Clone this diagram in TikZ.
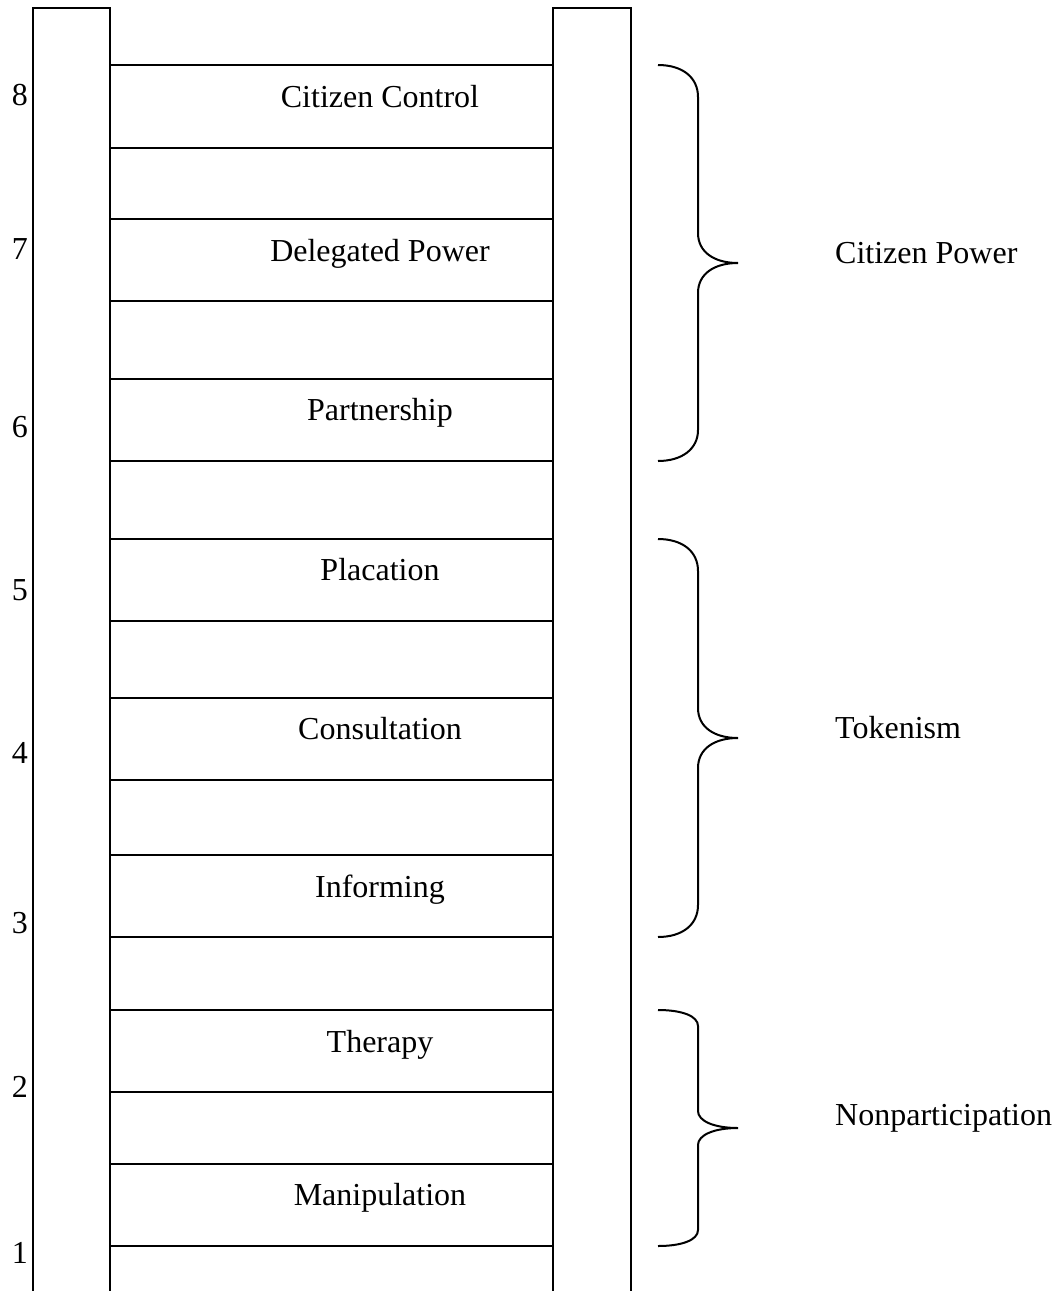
\documentclass[tikz,border=0pt]{standalone}
\usepackage{fontspec}
\setmainfont{Liberation Serif}
\begin{document}
\begin{tikzpicture}[x=1pt,y=-1pt,
  line/.style={line width=2pt, line join=miter},
  rung/.style={draw, line width=2pt, minimum width=443pt, inner sep=0pt, outer sep=0pt, anchor=north west},
  txt/.style={font=\fontsize{32}{38}\selectfont, inner sep=0pt, anchor=base},
  num/.style={font=\fontsize{32}{38}\selectfont, inner sep=0pt, anchor=base east},
  grp/.style={font=\fontsize{32}{38}\selectfont, inner sep=0pt, anchor=base west},
  brace/.style={line width=2pt}]
\useasboundingbox (0,0) rectangle (1059,1291);
% rungs
\node[rung, minimum height=83pt] (r8) at (110,65) {};
\node[rung, minimum height=82pt] (r7) at (110,219) {};
\node[rung, minimum height=82pt] (r6) at (110,379) {};
\node[rung, minimum height=82pt] (r5) at (110,539) {};
\node[rung, minimum height=82pt] (r4) at (110,698) {};
\node[rung, minimum height=82pt] (r3) at (110,855) {};
\node[rung, minimum height=82pt] (r2) at (110,1010) {};
\node[rung, minimum height=82pt] (r1) at (110,1164) {};
% rails
\draw[line] (33,1291) -- (33,8) -- (110,8) -- (110,1291);
\draw[line] (553,1291) -- (553,8) -- (631,8) -- (631,1291);
% rung labels
\node[txt] (t8) at (380,107) {Citizen Control};
\node[txt] (t7) at (380,261) {Delegated Power};
\node[txt] (t6) at (380,420) {Partnership};
\node[txt] (t5) at (380,580) {Placation};
\node[txt] (t4) at (380,739) {Consultation};
\node[txt] (t3) at (380,897) {Informing};
\node[txt] (t2) at (380,1052) {Therapy};
\node[txt] (t1) at (380,1205) {Manipulation};
% numbers
\node[num] (n8) at (28,105) {8};
\node[num] (n7) at (28,259) {7};
\node[num] (n6) at (28,437) {6};
\node[num] (n5) at (28,600) {5};
\node[num] (n4) at (28,763) {4};
\node[num] (n3) at (28,933) {3};
\node[num] (n2) at (28,1097) {2};
\node[num] (n1) at (28,1263) {1};
% braces
\draw[brace] (658,65) .. controls (682,65) and (698,77) .. (698,97) -- (698,233)
  .. controls (698,252) and (714,263) .. (738,263)
  .. controls (714,263) and (698,274) .. (698,293) -- (698,430)
  .. controls (698,449) and (682,461) .. (658,461);
\draw[brace] (658,539) .. controls (682,539) and (698,551) .. (698,571) -- (698,708)
  .. controls (698,727) and (714,738) .. (738,738)
  .. controls (714,738) and (698,749) .. (698,768) -- (698,905)
  .. controls (698,925) and (682,937) .. (658,937);
\draw[brace] (658,1010) .. controls (682,1010) and (698,1016) .. (698,1026) -- (698,1111)
  .. controls (698,1121) and (714,1128) .. (738,1128)
  .. controls (714,1128) and (698,1135) .. (698,1145) -- (698,1230)
  .. controls (698,1240) and (682,1246) .. (658,1246);
% group labels
\node[grp] (g1) at (835,263) {Citizen Power};
\node[grp] (g2) at (835,738) {Tokenism};
\node[grp] (g3) at (835,1125) {Nonparticipation};
\end{tikzpicture}
\end{document}
